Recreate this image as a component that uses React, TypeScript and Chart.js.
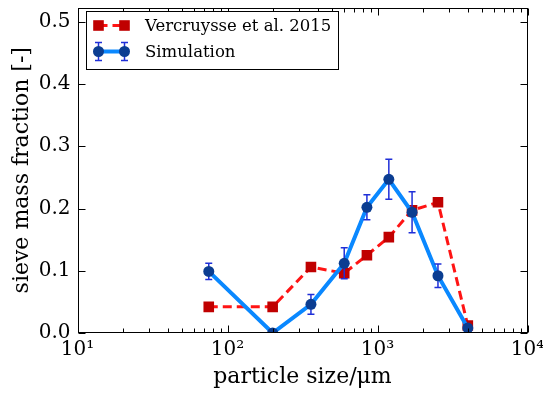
import React, { useEffect, useRef } from 'react';
import { Chart, registerables } from 'chart.js';

Chart.register(...registerables);

// ---- data ----
const particleSizes = [75, 200, 360, 600, 850, 1190, 1700, 2530, 4000];
const experimentFractions = [0.042, 0.042, 0.106, 0.096, 0.125, 0.154, 0.197, 0.21, 0.012];
const simulationFractions = [0.099, 0.0, 0.046, 0.112, 0.202, 0.247, 0.194, 0.092, 0.008];
const simulationErrors = [0.013, 0, 0.016, 0.025, 0.02, 0.032, 0.033, 0.019, 0.004];
const xMajorTicks = [10, 100, 1000, 10000];
const xTickLabels = ['10¹', '10²', '10³', '10⁴'];
const yTicks = [0, 0.1, 0.2, 0.3, 0.4, 0.5];
const seriesLabels = ['Vercruysse et al. 2015', 'Simulation'];
const xTitle = 'particle size/μm';
const yTitle = 'sieve mass fraction [-]';

// ---- styles ----
const FONT = "'DejaVu Serif', serif";
const RED_LINE = '#ff1414';
const RED_MARK = '#c00000';
const BLUE_LINE = '#0a88ff';
const BLUE_MARK = '#0b3d91';
const ERR_COLOR = '#1f2fd8';

const errorBarPlugin = {
  id: 'errorBars',
  afterDatasetDraw(chart: any, args: any) {
    if (args.index !== 1) return;
    const { ctx, scales } = chart;
    const x = scales.x, y = scales.y;
    ctx.save();
    ctx.strokeStyle = ERR_COLOR;
    ctx.lineWidth = 1.5;
    particleSizes.forEach((p, i) => {
      const e = simulationErrors[i];
      if (!e) return;
      const cx = x.getPixelForValue(p);
      const y1 = y.getPixelForValue(simulationFractions[i] + e);
      const y2 = y.getPixelForValue(simulationFractions[i] - e);
      ctx.beginPath();
      ctx.moveTo(cx, y1); ctx.lineTo(cx, y2);
      ctx.moveTo(cx - 3.5, y1); ctx.lineTo(cx + 3.5, y1);
      ctx.moveTo(cx - 3.5, y2); ctx.lineTo(cx + 3.5, y2);
      ctx.stroke();
    });
    ctx.restore();
  },
};

const framePlugin = {
  id: 'frameTicks',
  afterDraw(chart: any) {
    const { ctx, chartArea, scales } = chart;
    const x = scales.x, y = scales.y;
    const L = Math.round(chartArea.left) + 0.5;
    const R = Math.round(chartArea.right) - 0.5;
    const T = Math.round(chartArea.top) + 0.5;
    const B = Math.round(chartArea.bottom) - 0.5;
    ctx.save();
    ctx.strokeStyle = '#000';
    ctx.lineWidth = 1;
    ctx.strokeRect(L, T, R - L, B - T);
    ctx.beginPath();
    const major = 7, minor = 4;
    xMajorTicks.forEach((v) => {
      const px = Math.round(x.getPixelForValue(v)) + 0.5;
      ctx.moveTo(px, B); ctx.lineTo(px, B - major);
      ctx.moveTo(px, T); ctx.lineTo(px, T + major);
    });
    for (let k = 1; k < 4; k++) {
      for (let m = 2; m <= 9; m++) {
        const px = Math.round(x.getPixelForValue(m * Math.pow(10, k))) + 0.5;
        ctx.moveTo(px, B); ctx.lineTo(px, B - minor);
        ctx.moveTo(px, T); ctx.lineTo(px, T + minor);
      }
    }
    yTicks.forEach((v) => {
      const py = Math.round(y.getPixelForValue(v)) + 0.5;
      ctx.moveTo(L, py); ctx.lineTo(L + major, py);
      ctx.moveTo(R, py); ctx.lineTo(R - major, py);
    });
    ctx.stroke();

    // legend
    const bx = 86.5, by = 11.5, bw = 252, bh = 58;
    ctx.fillStyle = '#fff';
    ctx.fillRect(bx, by, bw, bh);
    ctx.strokeStyle = '#000';
    ctx.lineWidth = 1;
    ctx.strokeRect(bx, by, bw, bh);
    const hx1 = 98.5, hx2 = 124.5;
    const ry = 25.5, byy = 51.5;
    // red handle
    ctx.strokeStyle = RED_LINE;
    ctx.lineWidth = 3;
    ctx.setLineDash([9, 5]);
    ctx.beginPath();
    ctx.moveTo(hx1, ry); ctx.lineTo(hx2, ry);
    ctx.stroke();
    ctx.setLineDash([]);
    ctx.fillStyle = RED_MARK;
    [hx1, hx2].forEach((hx) => ctx.fillRect(hx - 5.3, ry - 5.3, 10.6, 10.6));
    // blue handle
    ctx.strokeStyle = BLUE_LINE;
    ctx.lineWidth = 4;
    ctx.beginPath();
    ctx.moveTo(hx1, byy); ctx.lineTo(hx2, byy);
    ctx.stroke();
    ctx.strokeStyle = ERR_COLOR;
    ctx.lineWidth = 1.5;
    ctx.beginPath();
    [hx1, hx2].forEach((hx) => {
      ctx.moveTo(hx, byy - 9); ctx.lineTo(hx, byy + 9);
      ctx.moveTo(hx - 3.5, byy - 9); ctx.lineTo(hx + 3.5, byy - 9);
      ctx.moveTo(hx - 3.5, byy + 9); ctx.lineTo(hx + 3.5, byy + 9);
    });
    ctx.stroke();
    ctx.fillStyle = BLUE_MARK;
    [hx1, hx2].forEach((hx) => {
      ctx.beginPath();
      ctx.arc(hx, byy, 5.5, 0, Math.PI * 2);
      ctx.fill();
    });
    ctx.fillStyle = '#000';
    ctx.font = `16.5px ${FONT}`;
    ctx.textBaseline = 'middle';
    ctx.textAlign = 'left';
    ctx.fillText(seriesLabels[0], 145, ry + 1);
    ctx.fillText(seriesLabels[1], 145, byy + 1);
    ctx.restore();
  },
};

export default function App() {
  const canvasRef = useRef<HTMLCanvasElement | null>(null);

  useEffect(() => {
    document.body.style.margin = '0';
    const canvas = canvasRef.current;
    if (!canvas) return;
    const chart = new Chart(canvas, {
      type: 'line',
      data: {
        datasets: [
          {
            label: seriesLabels[0],
            data: particleSizes.map((p, i) => ({ x: p, y: experimentFractions[i] })),
            borderColor: RED_LINE,
            borderWidth: 3,
            borderDash: [9, 5],
            pointStyle: 'rect',
            pointRadius: 7.5,
            pointBackgroundColor: RED_MARK,
            pointBorderColor: RED_MARK,
            pointBorderWidth: 0,
            tension: 0,
            clip: 0,
            order: 3,
          },
          {
            label: seriesLabels[1],
            data: particleSizes.map((p, i) => ({ x: p, y: simulationFractions[i] })),
            borderColor: BLUE_LINE,
            borderWidth: 4,
            pointRadius: 0,
            tension: 0,
            clip: 0,
            order: 2,
          },
          {
            label: seriesLabels[1] + ' points',
            data: particleSizes.map((p, i) => ({ x: p, y: simulationFractions[i] })),
            showLine: false,
            pointStyle: 'circle',
            pointRadius: 5.5,
            pointBackgroundColor: BLUE_MARK,
            pointBorderColor: BLUE_MARK,
            pointBorderWidth: 0,
            clip: 0,
            order: 1,
          },
        ],
      },
      options: {
        animation: false,
        responsive: true,
        maintainAspectRatio: false,
        layout: { padding: { top: 3, right: 15.5, left: 0, bottom: 0 } },
        plugins: { legend: { display: false }, tooltip: { enabled: false } },
        scales: {
          x: {
            type: 'logarithmic',
            min: 10,
            max: 10000,
            afterBuildTicks: (s: any) => {
              s.ticks = xMajorTicks.map((v) => ({ value: v }));
            },
            afterFit: (s: any) => {
              s.height = 64;
              s.paddingLeft = 0;
              s.paddingRight = 0;
            },
            ticks: {
              autoSkip: false,
              maxRotation: 0,
              padding: 5,
              color: '#000',
              font: { family: FONT, size: 20 },
              callback: (v: any) => {
                const i = xMajorTicks.indexOf(Number(v));
                return i >= 0 ? xTickLabels[i] : '';
              },
            },
            grid: { display: false, drawTicks: false },
            border: { display: false },
            title: {
              display: true,
              text: xTitle,
              color: '#000',
              font: { family: FONT, size: 22 },
              padding: { top: 0, bottom: 7 },
            },
          },
          y: {
            type: 'linear',
            min: 0,
            max: 0.523,
            afterBuildTicks: (s: any) => {
              s.ticks = yTicks.map((v) => ({ value: v }));
            },
            afterFit: (s: any) => {
              s.width = 77.5;
              s.paddingTop = 0;
              s.paddingBottom = 0;
            },
            ticks: {
              padding: 7,
              color: '#000',
              font: { family: FONT, size: 20 },
              callback: (v: any) => Number(v).toFixed(1),
            },
            grid: { display: false, drawTicks: false },
            border: { display: false },
            title: {
              display: true,
              text: yTitle,
              color: '#000',
              font: { family: FONT, size: 22 },
              padding: { top: 9, bottom: 0 },
            },
          },
        },
      },
      plugins: [errorBarPlugin, framePlugin],
    } as any);
    return () => chart.destroy();
  }, []);

  return (
    <div style={{ position: 'relative', width: 543, height: 397 }}>
      <canvas ref={canvasRef} />
    </div>
  );
}
